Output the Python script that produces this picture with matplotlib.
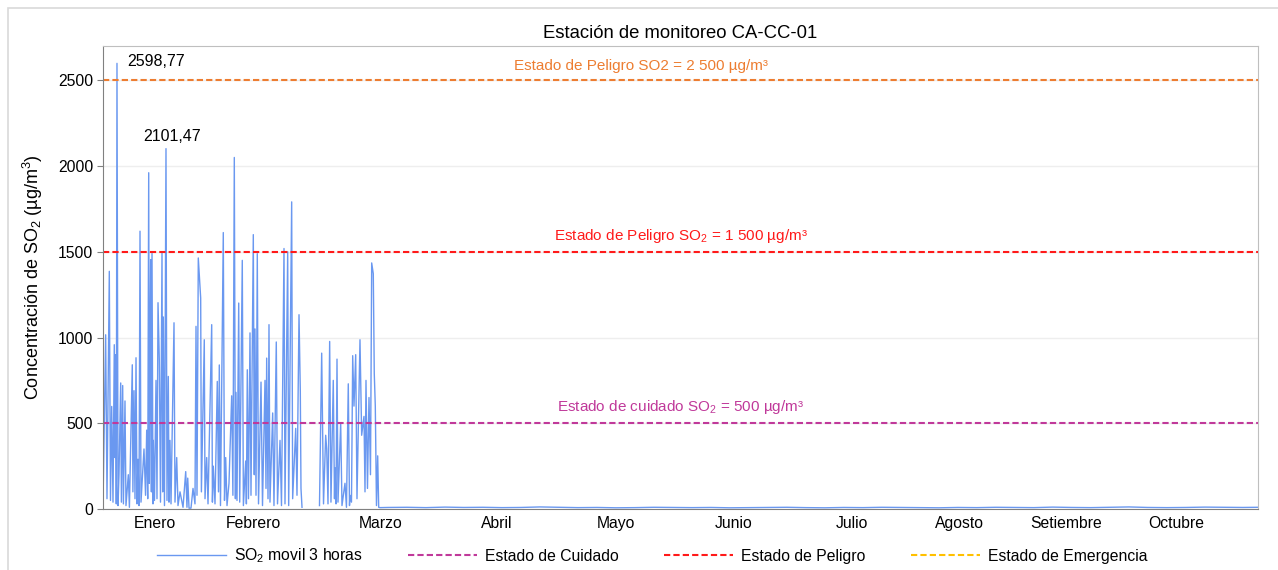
import numpy as np
import matplotlib.pyplot as plt
from matplotlib.patches import Rectangle

plt.rcParams['font.family'] = ['Liberation Sans', 'DejaVu Sans']
plt.rcParams['mathtext.default'] = 'regular'

# SO2 moving 3h average, x in days from start of record (NaN = no data)
days_jan_mar = [
    0.0, 0.7, 1.05, 1.66, 1.97, 2.29, 2.63, 2.97, 3.16, 3.34, 3.5, 3.68, 3.95, 4.21, 4.66,
    4.84, 5.18, 5.37, 5.79, 6.05, 6.66, 6.95, 7.71, 7.87, 8.16, 8.42, 8.69, 8.95, 9.21,
    9.48, 9.74, 10.0, 10.79, 11.2, 11.5, 11.77, 12.03, 12.19, 12.37, 12.55, 12.74, 12.9,
    13.16, 13.24, 13.55, 13.95, 14.21, 14.48, 14.82, 15.13, 15.53, 15.71, 15.87, 16.18,
    16.58, 16.84, 17.19, 17.37, 17.63, 17.9, 18.69, 18.95, 19.4, 19.74, 20.27, 21.06,
    21.77, 22.1, 22.3, 22.64, 23.16, 23.69, 24.21, 24.48, 24.74, 25.08, 25.4, 25.71, 25.9,
    26.66, 26.85, 27.29, 27.64, 28.61, 28.8, 29.03, 29.48, 30.08, 30.4, 30.61, 30.92,
    31.66, 31.98, 32.29, 32.64, 33.16, 33.87, 34.19, 34.56, 34.85, 35.0, 35.27, 35.72,
    35.98, 36.66, 36.95, 37.56, 37.74, 37.98, 38.29, 38.69, 38.95, 39.56, 39.82, 40.0,
    40.27, 40.61, 40.93, 41.59, 41.98, 42.64, 42.9, 43.08, 43.43, 43.69, 43.95, 44.66,
    45.0, 45.61, 45.93, 46.59, 46.98, 47.64, 47.9, 48.61, 48.87, 49.66, 49.92, 50.72,
    51.06, 51.59, 51.93, 52.11, 52.38, 54.5,
    56.98, 57.56, 57.77, 58.04, 58.61, 58.88, 59.22, 59.66, 60.0, 60.61, 60.93, 61.06,
    61.33, 61.59, 61.85, 62.56, 62.9, 63.69, 64.08, 64.56, 64.88, 65.0, 65.4, 65.72,
    66.06, 66.51, 66.85, 67.64, 68.08, 68.69, 68.96, 69.22, 69.61, 70.01, 70.4, 70.72,
    71.14, 71.4, 71.67, 71.98, 72.3, 72.56, 72.9,
]
so2_jan_mar = [
    20, 1016, 60, 1386, 50, 598, 40, 958, 300, 900, 30, 2598.77, 20, 200, 735,
    40, 720, 30, 630, 20, 200, 10, 841, 100, 690, 60, 882, 30, 290,
    20, 1620, 40, 350, 80, 460, 60, 1961, 150, 928, 1454, 100, 1490,
    30, 400, 50, 750, 60, 1203, 870, 40, 1495, 100, 1120, 20,
    2101.47, 50, 773, 40, 400, 30, 1086, 40, 300, 20, 100, 10,
    218, 10, 180, 5, 5, 120, 30, 1065, 80, 1464, 1340, 1230, 100,
    987, 60, 300, 30, 1075, 40, 250, 30, 744, 100, 840, 20,
    1612, 50, 300, 20, 150, 660, 80, 2050, 60, 680, 50, 1201,
    40, 1450, 20, 280, 30, 812, 60, 1027, 80, 1600, 200, 1050,
    80, 1489, 30, 740, 20, 750, 120, 880, 60, 1075, 40, 560,
    20, 974, 30, 400, 20, 1519, 30, 1500, 20, 1791, 60, 470,
    80, 1133, 690, 120, 10, np.nan,
    20, 909, 500, 30, 430, 350, 30, 977, 40, 750, 60, 240,
    30, 874, 40, 500, 20, 150, 10, 730, 20, 80, 40, 894,
    600, 900, 60, 987, 430, 540, 100, 750, 120, 650, 200, 1435,
    1372, 790, 600, 20, 310, 10, 8,
]
days_rest = list(range(75, 305, 5)) + [304]
so2_rest = [
    9, 10, 8, 11, 9, 10, 8, 9, 12, 10, 8, 9, 7, 8, 10, 9,
    8, 9, 7, 8, 9, 10, 8, 7, 9, 8, 10, 9, 8, 7, 9, 8,
    10, 9, 8, 11, 9, 8, 10, 12, 9, 8, 9, 11, 10, 9, 10,
]

days = days_jan_mar + days_rest
so2 = so2_jan_mar + so2_rest

month_names = ['Enero', 'Febrero', 'Marzo', 'Abril', 'Mayo', 'Junio',
               'Julio', 'Agosto', 'Setiembre', 'Octubre']
month_pos = [13.7, 39.7, 73.2, 103.7, 135.0, 166.1, 197.1, 225.3, 253.5, 282.4]

lim_cuidado = 500
lim_peligro = 1500
lim_peligro2 = 2500

fig = plt.figure(figsize=(12.78, 5.70), dpi=100)
ax = fig.add_axes([103/1278, 1 - 509/570, (1258 - 103)/1278, (509 - 46)/570])

# outer frame
fig.add_artist(Rectangle((8/1278, -0.05), 1.2, (570 - 8)/570 + 0.05,
                         transform=fig.transFigure, fill=False,
                         edgecolor='#d9d9d9', linewidth=1.2))

ax.plot(days, so2, color='#6a98f0', linewidth=1.0, label='SO$_2$ movil 3 horas')
ax.axhline(lim_cuidado, color='#c0399a', linestyle=(0, (3, 1.5)), linewidth=1.5,
           label='Estado de Cuidado')
ax.axhline(lim_peligro, color='#ff1a1a', linestyle=(0, (3, 1.5)), linewidth=1.5,
           label='Estado de Peligro')
ax.axhline(lim_peligro2, color='#ed7d31', linestyle=(0, (3, 1.5)), linewidth=1.5)
ax.plot([], [], color='#ffc000', linestyle=(0, (3, 1.5)), linewidth=1.5,
        label='Estado de Emergencia')

ax.text(0.466, 2540, 'Estado de Peligro SO2 = 2 500 µg/m³', color='#ed7d31',
        ha='center', va='bottom', fontsize=11, transform=ax.get_yaxis_transform())
ax.text(0.5, 1540, 'Estado de Peligro SO$_2$ = 1 500 µg/m³', color='#ff1a1a',
        ha='center', va='bottom', fontsize=11, transform=ax.get_yaxis_transform())
ax.text(0.5, 540, 'Estado de cuidado SO$_2$ = 500 µg/m³', color='#c0399a',
        ha='center', va='bottom', fontsize=11, transform=ax.get_yaxis_transform())

ax.annotate('2598,77', xy=(3.68, 2598.77), xytext=(6.5, 2611), fontsize=11.5,
            ha='left', va='center')
ax.annotate('2101,47', xy=(16.58, 2101.47), xytext=(10.5, 2173), fontsize=11.5,
            ha='left', va='center')

ax.set_xlim(0, 304)
ax.set_ylim(0, 2700)
ax.set_yticks([0, 500, 1000, 1500, 2000, 2500])
ax.set_xticks(month_pos)
ax.set_xticklabels(month_names)
ax.tick_params(axis='x', length=0, labelsize=11.3, pad=5)
ax.tick_params(axis='y', length=4, color='#808080', labelsize=11.3, pad=3)
ax.yaxis.grid(True, color='#eeeeee', linewidth=1)
ax.set_axisbelow(True)

for side in ['left', 'bottom']:
    ax.spines[side].set_color('#808080')
for side in ['top', 'right']:
    ax.spines[side].set_color('#bfbfbf')

ax.set_ylabel('Concentración de SO$_2$ (µg/m$^3$)', fontsize=13, labelpad=9)
ax.set_title('Estación de monitoreo CA-CC-01', fontsize=13.3, pad=6)

ax.legend(loc='center', bbox_to_anchor=(652/1278, 1 - 556/570), bbox_transform=fig.transFigure,
          ncol=4, frameon=False, fontsize=11.3, handlelength=4.4, columnspacing=2.9,
          handletextpad=0.5)

fig.savefig('out.png', dpi=100)
